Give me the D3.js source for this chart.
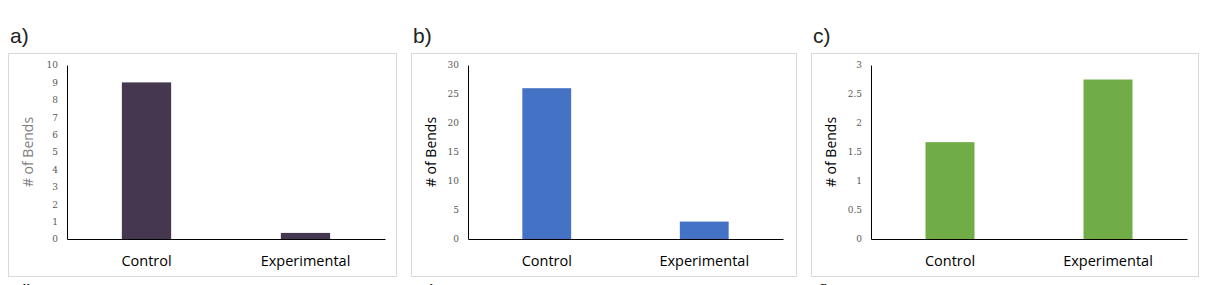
<!DOCTYPE html>
<html lang="en">
<head>
    <meta charset="UTF-8">
    <title>Bends</title>
    <style>
        body{ margin:0; background:#fff; }
        text{ font-family: "Open Sans", "Noto Sans", sans-serif; }
        .tick text{ fill:#595959; font-size:9px; font-family:"DejaVu Serif", serif; }
        .panel-label{ font-family:"Liberation Sans", Arial, sans-serif; font-size:21px; fill:#222; }
    </style>
    <script src="https://d3js.org/d3.v7.min.js"></script>
</head>
<body>
    <div class="canvas"></div>
    <script>
    // data
    const categories = ['Control', 'Experimental'];
    const panelLabels = ['a)', 'b)', 'c)'];
    const bendsA = [9, 0.35];
    const bendsB = [26, 3];
    const bendsC = [1.67, 2.75];
    const maxA = 10, maxB = 30, maxC = 3;
    const ticksA = [0,1,2,3,4,5,6,7,8,9,10];
    const ticksB = [0,5,10,15,20,25,30];
    const ticksC = [0,0.5,1,1.5,2,2.5,3];
    const lowerLabels = ['d)', 'e)', 'f)'];

    // layout (frame left, axis left, axis right)
    const panels = [
        {values: bendsA, max: maxA, ticks: ticksA, color:'#45374f', titleColor:'#7f7f7f', fx:8,   fr:396,  ax:67,  ar:385},
        {values: bendsB, max: maxB, ticks: ticksB, color:'#4472c4', titleColor:'#000',    fx:411, fr:796,  ax:468, ar:783},
        {values: bendsC, max: maxC, ticks: ticksC, color:'#70ad47', titleColor:'#000',    fx:811, fr:1198, ax:871, ar:1187}
    ];

    const svg = d3.select('.canvas')
                    .append('svg')
                    .attr('width',1224)
                    .attr('height',285);

    const plotTop = 65, plotBase = 239;

    panels.forEach((p, i) => {
        const g = svg.append('g');

        g.append('text')
            .attr('class', 'panel-label')
            .attr('x', p.fx + 2)
            .attr('y', 43)
            .text(panelLabels[i]);

        // next row's labels, cut off by the bottom edge as in the source
        g.append('text')
            .attr('class', 'panel-label')
            .attr('x', p.fx + 7)
            .attr('y', 299)
            .text(lowerLabels[i]);

        g.append('rect')
            .attr('x', p.fx + 0.5)
            .attr('y', 53.5)
            .attr('width', p.fr - p.fx)
            .attr('height', 223)
            .attr('fill', 'none')
            .attr('stroke', '#d9d9d9');

        const x = d3.scaleBand()
                    .domain(categories)
                    .range([p.ax, p.ar])
                    .paddingInner(0.69)
                    .paddingOuter(0.345);
        const y = d3.scaleLinear()
                    .domain([0, p.max])
                    .range([plotBase, plotTop]);

        g.selectAll('rect.bar')
            .data(p.values)
            .enter()
            .append('rect')
            .attr('class','bar')
            .attr('x', (d, j) => x(categories[j]))
            .attr('y', d => y(d))
            .attr('width', x.bandwidth())
            .attr('height', d => plotBase - y(d))
            .attr('fill', p.color);

        const yAxis = g.append('g')
            .attr('transform', `translate(${p.ax},0)`)
            .call(d3.axisLeft(y).tickValues(p.ticks).tickFormat(d3.format('~g')).tickSize(0).tickPadding(9));
        yAxis.select('.domain').attr('stroke', '#000');

        const xAxis = g.append('g')
            .attr('transform', `translate(0,${plotBase})`)
            .call(d3.axisBottom(x).tickSize(0).tickPadding(0));
        xAxis.select('.domain').attr('stroke', '#000');
        xAxis.selectAll('text')
            .attr('dy', 27)
            .style('font-size', '14.5px')
            .style('font-family', '"Open Sans", sans-serif')
            .style('fill', '#000');

        g.append('text')
            .attr('transform', `translate(${p.fx + 25},${(plotTop + plotBase) / 2}) rotate(-90)`)
            .attr('text-anchor', 'middle')
            .attr('font-size', 14)
            .attr('fill', p.titleColor)
            .text('# of Bends');
    });
    </script>
</body>
</html>
